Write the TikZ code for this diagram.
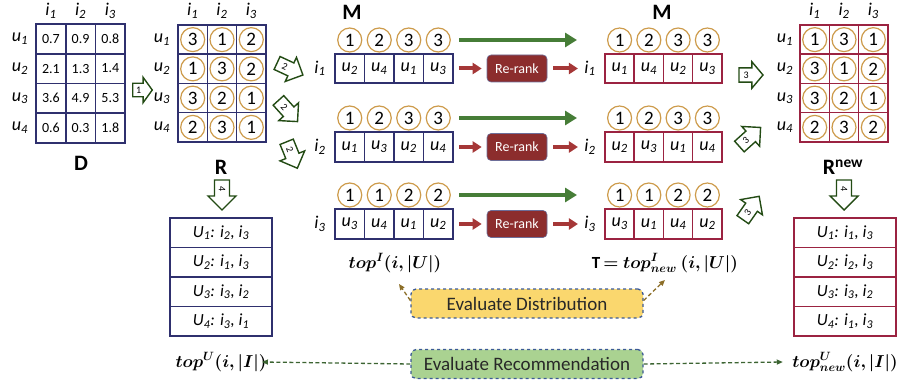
\documentclass[tikz,border=0pt]{standalone}
\usepackage{fontspec}
\setmainfont{Carlito}
\usepackage{amsmath,bm}
\usetikzlibrary{arrows.meta}
\definecolor{navy}{RGB}{47,48,110}
\definecolor{maroon}{RGB}{155,35,65}
\definecolor{gold}{RGB}{205,155,75}
\definecolor{garr}{RGB}{70,125,55}
\definecolor{bgreen}{RGB}{35,75,20}
\definecolor{rarr}{RGB}{165,55,55}
\definecolor{rrfill}{RGB}{140,45,45}
\definecolor{yel}{RGB}{250,215,110}
\definecolor{lgreen}{RGB}{170,210,145}
\definecolor{dblue}{RGB}{60,90,150}
\definecolor{brownc}{RGB}{140,110,40}
\definecolor{dgreen}{RGB}{60,100,50}
\definecolor{txtgray}{RGB}{40,40,40}
\newcommand\ix[2]{\textit{#1\textsubscript{#2}}}
% block arrow: name, x, y, angle, label, xscale, yscale
\newcommand\barr[7]{%
  \begin{scope}[shift={(#2,#3)},rotate=#4,xscale=#6,yscale=#7]
    \draw[bgreen,line width=1.4pt,fill=white,line join=miter]
      (-15,-7.5) -- (1,-7.5) -- (1,-14) -- (15,0) -- (1,14) -- (1,7.5) -- (-15,7.5) -- cycle;
    \node[rotate=#4,font=\fontsize{10}{10}\selectfont,inner sep=0pt] (#1) at (-6,0) {#5};
  \end{scope}}
\begin{document}
\begin{tikzpicture}[x=1pt,y=-1pt,
  cellN/.style={draw=navy,line width=1.4pt,minimum width=29.4pt,minimum height=29.4pt,inner sep=0pt,outer sep=0pt,fill=white,font=\fontsize{18}{18}\selectfont\itshape},
  cellR/.style={cellN,draw=maroon},
  rk/.style={circle,draw=gold,line width=1.2pt,minimum size=24pt,inner sep=0pt,font=\fontsize{19}{19}\selectfont},
  lab/.style={font=\fontsize{18}{18}\selectfont\itshape},
  big/.style={font=\fontsize{22}{22}\selectfont\bfseries},
  garrow/.style={garr,line width=4.5pt,-{Triangle[length=12pt,width=14pt]}},
  rarrow/.style={rarr,line width=4pt,-{Triangle[length=9pt,width=11pt]}},
  rerank/.style={rounded corners=4pt,fill=rrfill,draw=navy!70,line width=0.6pt,minimum width=60pt,minimum height=27pt,text=white,font=\fontsize{14}{14}\selectfont},
  lcell/.style={draw=navy,line width=1.4pt,minimum width=102pt,minimum height=29.5pt,inner sep=0pt,outer sep=0pt,font=\fontsize{17}{17}\selectfont\itshape},
  lcellR/.style={lcell,draw=maroon},
  evalbox/.style={rounded corners=5pt,dashed,draw=dblue,line width=1.3pt,minimum width=232pt,minimum height=29pt,text=txtgray,font=\fontsize{19}{19}\selectfont},
  darrow/.style={dashed,dash pattern=on 4pt off 2.5pt,line width=1.3pt,-{Triangle[length=6pt,width=5pt]}},
  fml/.style={font=\fontsize{17}{17}\selectfont}
]
\useasboundingbox (0,0) rectangle (899,385);

% ---------- D matrix ----------
\foreach \r/\a/\b/\c in {1/0.7/0.9/0.8, 2/2.1/1.3/1.4, 3/3.6/4.9/5.3, 4/0.6/0.3/1.8} {
  \node[cellN,font=\fontsize{14}{14}\selectfont] (d\r1) at (50.9,{24+29.7*(\r-0.5)}) {\a};
  \node[cellN,font=\fontsize{14}{14}\selectfont] (d\r2) at (80.6,{24+29.7*(\r-0.5)}) {\b};
  \node[cellN,font=\fontsize{14}{14}\selectfont] (d\r3) at (110.3,{24+29.7*(\r-0.5)}) {\c};
  \node[lab] (du\r) at (20,{24+29.7*(\r-0.5)}) {\ix{u}{\r}};
}
\draw[navy,line width=2.2pt] (d11.north west) rectangle (d43.south east);
\foreach \c/\x in {1/50.9,2/80.6,3/110.3} \node[lab] (dh\c) at (\x,11) {\ix{i}{\c}};
\node[big] (Dl) at (81,163) {D};

\barr{a1}{142.5}{90}{0}{1}{0.65}{0.9}

% ---------- R matrix ----------
\foreach \r/\a/\b/\c in {1/3/1/2, 2/1/3/2, 3/3/2/1, 4/2/3/1} {
  \node[cellN] (r\r1) at (192.7,{25+29.25*(\r-0.5)}) {};
  \node[cellN] (r\r2) at (222,{25+29.25*(\r-0.5)}) {};
  \node[cellN] (r\r3) at (251.3,{25+29.25*(\r-0.5)}) {};
  \node[rk] (rc\r1) at (r\r1) {\a};
  \node[rk] (rc\r2) at (r\r2) {\b};
  \node[rk] (rc\r3) at (r\r3) {\c};
  \node[lab] (ru\r) at (162,{25+29.25*(\r-0.5)}) {\ix{u}{\r}};
}
\draw[navy,line width=2.2pt] (r11.north west) rectangle (r43.south east);
\foreach \c/\x in {1/192.7,2/222,3/251.3} \node[lab] (rh\c) at (\x,11) {\ix{i}{\c}};
\node[big] (Rl) at (221,167) {R};

\barr{a4l}{222}{195}{-90}{4}{1}{1}

% ---------- left list ----------
\node[lcell] (l1) at (221,232.75) {U\textsubscript{1}: i\textsubscript{2}, i\textsubscript{3}};
\node[lcell] (l2) at (221,262.25) {U\textsubscript{2}: i\textsubscript{1}, i\textsubscript{3}};
\node[lcell] (l3) at (221,291.75) {U\textsubscript{3}: i\textsubscript{3}, i\textsubscript{2}};
\node[lcell] (l4) at (221,321.25) {U\textsubscript{4}: i\textsubscript{3}, i\textsubscript{1}};

% ---------- arrows 2 ----------
\barr{a21}{290}{69}{-25}{2}{0.95}{0.95}
\barr{a22}{288}{111}{-48}{2}{0.95}{0.95}
\barr{a23}{292}{155}{-68}{2}{0.95}{0.95}

% ---------- M rows ----------
\node[big] (M1) at (352,12) {M};
\node[big] (M2) at (662,12) {M};
\foreach \k/\yb/\yc/\ca/\cb/\cc/\cd/\ua/\ub/\uc/\ud/\va/\vb/\vc/\vd in
  {1/68.5/40/1/2/3/3/2/4/1/3/1/4/2/3,
   2/147/118/1/2/3/3/1/3/2/4/2/3/1/4,
   3/224/195/1/1/2/2/3/4/1/2/3/1/4/2} {
  % left
  \node[cellN] (m\k1) at (349.75,\yb) {\ix{u}{\ua}};
  \node[cellN] (m\k2) at (379.25,\yb) {\ix{u}{\ub}};
  \node[cellN] (m\k3) at (408.75,\yb) {\ix{u}{\uc}};
  \node[cellN] (m\k4) at (438.25,\yb) {\ix{u}{\ud}};
  \node[rk] (mc\k1) at (349.75,\yc) {\ca};
  \node[rk] (mc\k2) at (379.25,\yc) {\cb};
  \node[rk] (mc\k3) at (408.75,\yc) {\cc};
  \node[rk] (mc\k4) at (438.25,\yc) {\cd};
  \node[lab] (mi\k) at (320,\yb) {\ix{i}{\k}};
  % right
  \node[cellR] (n\k1) at (619.6,\yb) {\ix{u}{\va}};
  \node[cellR] (n\k2) at (648.85,\yb) {\ix{u}{\vb}};
  \node[cellR] (n\k3) at (678.1,\yb) {\ix{u}{\vc}};
  \node[cellR] (n\k4) at (707.35,\yb) {\ix{u}{\vd}};
  \node[rk] (nc\k1) at (619.6,\yc) {\ca};
  \node[rk] (nc\k2) at (648.85,\yc) {\cb};
  \node[rk] (nc\k3) at (678.1,\yc) {\cc};
  \node[rk] (nc\k4) at (707.35,\yc) {\cd};
  \node[lab] (ni\k) at (590,\yb) {\ix{i}{\k}};
  % arrows
  \coordinate (gs\k) at (459,\yc);
  \coordinate (ge\k) at (577,\yc);
  \draw[garrow] (gs\k) -- (ge\k);
  \node[rerank] (rr\k) at (517,\yb) {Re-rank};
  \draw[rarrow] ([xshift=6pt]m\k4.east) -- ([xshift=-5pt]rr\k.west);
  \draw[rarrow] ([xshift=6pt]rr\k.east) -- ([xshift=-3pt]ni\k.west);
}
\foreach \k in {1,2,3} {
  \draw[navy,line width=2pt] (m\k1.north west) rectangle (m\k4.south east);
  \draw[maroon,line width=2pt] (n\k1.north west) rectangle (n\k4.south east);
}

% ---------- arrows 3 ----------
\barr{a31}{751}{75}{0}{3}{0.8}{0.95}
\barr{a32}{750}{137}{42}{3}{0.95}{0.95}
\barr{a33}{751}{208}{55}{3}{0.95}{0.95}

% ---------- Rnew matrix ----------
\foreach \r/\a/\b/\c in {1/1/3/1, 2/3/1/2, 3/3/2/1, 4/2/3/2} {
  \node[cellR] (q\r1) at (814.7,{25+29.25*(\r-0.5)}) {};
  \node[cellR] (q\r2) at (844,{25+29.25*(\r-0.5)}) {};
  \node[cellR] (q\r3) at (873.3,{25+29.25*(\r-0.5)}) {};
  \node[rk] (qc\r1) at (q\r1) {\a};
  \node[rk] (qc\r2) at (q\r2) {\b};
  \node[rk] (qc\r3) at (q\r3) {\c};
  \node[lab] (qu\r) at (785,{25+29.25*(\r-0.5)}) {\ix{u}{\r}};
}
\draw[maroon,line width=2.2pt] (q11.north west) rectangle (q43.south east);
\foreach \c/\x in {1/814.7,2/844,3/873.3} \node[lab] (qh\c) at (\x,11) {\ix{i}{\c}};
\node[big] (Rn) at (843,167) {R\textsuperscript{new}};

\barr{a4r}{844}{195}{-90}{4}{1}{1}

% ---------- right list ----------
\node[lcellR] (p1) at (845,232.75) {U\textsubscript{1}: i\textsubscript{1}, i\textsubscript{3}};
\node[lcellR] (p2) at (845,262.25) {U\textsubscript{2}: i\textsubscript{2}, i\textsubscript{3}};
\node[lcellR] (p3) at (845,291.75) {U\textsubscript{3}: i\textsubscript{3}, i\textsubscript{2}};
\node[lcellR] (p4) at (845,321.25) {U\textsubscript{4}: i\textsubscript{1}, i\textsubscript{3}};

% ---------- formulas ----------
\node[fml] (tI) at (395,263) {$\bm{top^{I}(i,|U|)}$};
\node[fml] (tT) at (665,263) {\textbf{T}$\,\bm{=top^{I}_{new}\ (i,|U|)}$};
\node[fml] (tU) at (221,362) {$\bm{top^{U}(i,|I|)}$};
\node[fml] (tUn) at (845,362) {$\bm{top^{U}_{new}(i,|I|)}$};

% ---------- evaluate boxes ----------
\node[evalbox,fill=yel] (ed) at (527,303.5) {Evaluate Distribution};
\node[evalbox,fill=lgreen] (er) at (527,364) {Evaluate Recommendation};

\draw[darrow,brownc] ([yshift=3pt]ed.west) -- ([xshift=4pt,yshift=-8pt]tI.south);
\draw[darrow,brownc] ([yshift=3pt]ed.east) -- ([yshift=-4pt]tT.south);
\draw[darrow,dgreen] (er.west) -- ([xshift=-8pt]tU.east);
\draw[darrow,dgreen] (er.east) -- ([xshift=-6pt]tUn.west);
\end{tikzpicture}
\end{document}
